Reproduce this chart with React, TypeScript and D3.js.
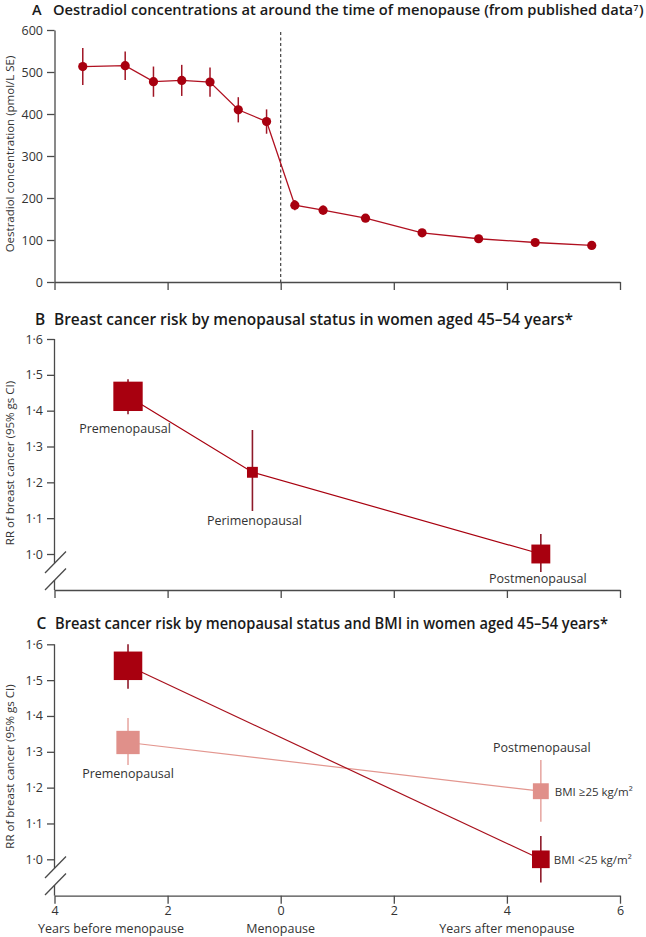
import React, { useEffect, useRef } from "react";
import * as d3 from "d3";

// ---------- Panel A data ----------
const yearsA = [-3.5, -2.75, -2.25, -1.75, -1.25, -0.75, -0.25, 0.25, 0.75, 1.5, 2.5, 3.5, 4.5, 5.5];
const oestradiol = [513, 515, 477, 480, 476, 410, 382, 183, 171, 152, 117, 103, 94, 87];
const oestradiolSE = [44, 34, 36, 37, 35, 30, 29, 12, 11, 6, 5, 4, 4, 4];
const ticksA = [0, 100, 200, 300, 400, 500, 600];

// ---------- Panel B data ----------
const statusB = ["Premenopausal", "Perimenopausal", "Postmenopausal"];
const yearsB = [-2.7, -0.5, 4.6];
const rrB = [1.44, 1.228, 1.0];
const loB = [1.39, 1.12, 0.95];
const hiB = [1.488, 1.346, 1.056];

// ---------- Panel C data ----------
const statusC = ["Premenopausal", "Postmenopausal"];
const yearsC = [-2.7, 4.6];
const rrLean = [1.54, 1.0];
const loLean = [1.476, 0.935];
const hiLean = [1.6, 1.065];
const rrOver = [1.326, 1.19];
const loOver = [1.263, 1.105];
const hiOver = [1.394, 1.277];
const bmiLabels = ["BMI <25 kg/m²", "BMI ≥25 kg/m²"];

const ticksRR = [1.0, 1.1, 1.2, 1.3, 1.4, 1.5, 1.6];
const ticksX = [-4, -2, 0, 2, 4, 6];

const DARK = "#a8000f";
const DARK_BAR = "#8e1a2a";
const PINK = "#e0908a";
const PINK_BAR = "#e8aaa5";
const AXIS = "#4a4a4a";
const TEXT = "#333";
const FONT = "'Open Sans', 'Noto Sans', sans-serif";

export default function App() {
  const ref = useRef<SVGSVGElement | null>(null);

  useEffect(() => {
    const svg = d3.select(ref.current);
    svg.selectAll("*").remove();

    const x = d3.scaleLinear().domain([-4, 6]).range([54.5, 620]);

    const fmtRR = (d: number) => d3.format(".1f")(d).replace(".", "·");

    function title(letter: string, text: string, y: number, xl: number, xt: number, xe: number, size: number) {
      svg.append("text").attr("x", xl).attr("y", y).attr("font-family", FONT).attr("font-weight", 600)
        .attr("font-size", size).attr("fill", "#1a1a1a").text(letter);
      svg.append("text").attr("x", xt).attr("y", y).attr("font-family", FONT).attr("font-weight", 600)
        .attr("font-size", size).attr("fill", "#1a1a1a").attr("textLength", xe - xt)
        .attr("lengthAdjust", "spacingAndGlyphs").text(text);
    }

    function yLabel(text: string, cy: number) {
      svg.append("text").attr("transform", `translate(14,${cy}) rotate(-90)`).attr("text-anchor", "middle")
        .attr("font-family", FONT).attr("font-size", 11.5).attr("fill", TEXT).text(text);
    }

    function xAxis(yPos: number, labels: boolean) {
      const ax = d3.axisBottom(x).tickValues(ticksX).tickSizeInner(8).tickSizeOuter(0).tickPadding(2)
        .tickFormat((d) => (labels ? String(Math.abs(d as number)) : ""));
      const g = svg.append("g").attr("transform", `translate(0,${yPos})`).call(ax);
      g.select(".domain").attr("stroke", AXIS).attr("stroke-width", 1.3);
      g.selectAll(".tick line").attr("stroke", AXIS).attr("stroke-width", 1.3);
      g.selectAll(".tick text").attr("font-family", FONT).attr("font-size", 12.5).attr("fill", TEXT);
    }

    function yAxis(y: d3.ScaleLinear<number, number>, ticks: number[], fmt: (d: number) => string, withDomain: boolean) {
      const ax = d3.axisLeft(y).tickValues(ticks).tickSizeInner(7.5).tickSizeOuter(0).tickPadding(4)
        .tickFormat((d) => fmt(d as number));
      const g = svg.append("g").attr("transform", `translate(54.5,0)`).call(ax);
      g.select(".domain").attr("stroke", withDomain ? AXIS : "none").attr("stroke-width", 1.3);
      g.selectAll(".tick line").attr("stroke", AXIS).attr("stroke-width", 1.3);
      g.selectAll(".tick text").attr("font-family", FONT).attr("font-size", 12.5).attr("fill", TEXT);
    }

    function brokenAxis(top: number, axisY: number, b1: number, b2: number) {
      svg.append("line").attr("x1", 54.5).attr("x2", 54.5).attr("y1", top).attr("y2", b1)
        .attr("stroke", AXIS).attr("stroke-width", 1.3);
      svg.append("line").attr("x1", 54.5).attr("x2", 54.5).attr("y1", b2).attr("y2", axisY)
        .attr("stroke", AXIS).attr("stroke-width", 1.3);
      [b1, b2].forEach((c) => {
        svg.append("line").attr("x1", 45).attr("y1", c + 10).attr("x2", 66).attr("y2", c - 11.5)
          .attr("stroke", AXIS).attr("stroke-width", 1.3);
      });
    }

    // ===================== Panel A =====================
    title("A", "Oestradiol concentrations at around the time of menopause (from published data", 15, 32, 53, 633, 14.5);
    svg.append("text").attr("x", 633.5).attr("y", 10.5).attr("font-family", FONT).attr("font-weight", 600)
      .attr("font-size", 8.5).attr("fill", "#1a1a1a").text("7");
    svg.append("text").attr("x", 639).attr("y", 15).attr("font-family", FONT).attr("font-weight", 600)
      .attr("font-size", 14.5).attr("fill", "#1a1a1a").text(")");
    const yA = d3.scaleLinear().domain([0, 600]).range([282, 30]);
    yAxis(yA, ticksA, (d) => String(d), true);
    xAxis(282, false);
    yLabel("Oestradiol concentration (pmol/L SE)", 154);

    svg.append("line").attr("x1", x(0)).attr("x2", x(0)).attr("y1", 32).attr("y2", 282)
      .attr("stroke", "#333").attr("stroke-width", 1.1).attr("stroke-dasharray", "3,2.5");

    const lineA = d3.line<number>().x((_, i) => x(yearsA[i])).y((d) => yA(d));
    svg.append("path").attr("d", lineA(oestradiol)).attr("fill", "none").attr("stroke", "#b01020").attr("stroke-width", 1.3);
    oestradiol.forEach((v, i) => {
      svg.append("line").attr("x1", x(yearsA[i])).attr("x2", x(yearsA[i]))
        .attr("y1", yA(v + oestradiolSE[i])).attr("y2", yA(v - oestradiolSE[i]))
        .attr("stroke", "#a01525").attr("stroke-width", 1.5);
    });
    oestradiol.forEach((v, i) => {
      svg.append("circle").attr("cx", x(yearsA[i])).attr("cy", yA(v)).attr("r", 4.6).attr("fill", DARK);
    });

    // ===================== Panel B =====================
    title("B", "Breast cancer risk by menopausal status in women aged 45–54 years*", 325, 35, 54, 573, 15.5);
    const yB = d3.scaleLinear().domain([1.0, 1.6]).range([554, 339]);
    yAxis(yB, ticksRR, fmtRR, false);
    brokenAxis(yB(1.6), 590, 563, 580);
    xAxis(590, false);
    yLabel("RR of breast cancer (95% gs CI)", 463);

    const sideB = (lo: number, hi: number) => 2.0 / (Math.log(hi) - Math.log(lo));
    const lineB = d3.line<number>().x((_, i) => x(yearsB[i])).y((d) => yB(d));
    svg.append("path").attr("d", lineB(rrB)).attr("fill", "none").attr("stroke", DARK).attr("stroke-width", 1.2);
    rrB.forEach((v, i) => {
      const cx = x(yearsB[i]);
      svg.append("line").attr("x1", cx).attr("x2", cx).attr("y1", yB(hiB[i])).attr("y2", yB(loB[i]))
        .attr("stroke", DARK_BAR).attr("stroke-width", 1.6);
      const s = sideB(loB[i], hiB[i]);
      svg.append("rect").attr("x", cx - s / 2).attr("y", yB(v) - s / 2).attr("width", s).attr("height", s).attr("fill", DARK);
    });
    const labB = [
      { dx: -3, y: 433 },
      { dx: 2, y: 525 },
      { dx: -3, y: 583 },
    ];
    statusB.forEach((s, i) => {
      svg.append("text").attr("x", x(yearsB[i]) + labB[i].dx).attr("y", labB[i].y).attr("text-anchor", "middle")
        .attr("font-family", FONT).attr("font-size", 12.5).attr("fill", TEXT).text(s);
    });

    // ===================== Panel C =====================
    title("C", "Breast cancer risk by menopausal status and BMI in women aged 45–54 years*", 628.5, 36.5, 55, 608, 15.5);
    const yC = d3.scaleLinear().domain([1.0, 1.6]).range([859.3, 644.3]);
    yAxis(yC, ticksRR, fmtRR, false);
    brokenAxis(yC(1.6), 895.7, 868, 885);
    xAxis(895.7, true);
    yLabel("RR of breast cancer (95% gs CI)", 766.5);

    const xLabels = [
      { t: "Years before menopause", v: -3 },
      { t: "Menopause", v: 0 },
      { t: "Years after menopause", v: 4 },
    ];
    xLabels.forEach((l) => {
      svg.append("text").attr("x", x(l.v)).attr("y", 932.5).attr("text-anchor", "middle")
        .attr("font-family", FONT).attr("font-size", 12.5).attr("fill", TEXT).text(l.t);
    });

    const sideC = (lo: number, hi: number) => 2.3 / (Math.log(hi) - Math.log(lo));
    const series = [
      { rr: rrOver, lo: loOver, hi: hiOver, fill: PINK, bar: PINK_BAR, line: "#e3968f" },
      { rr: rrLean, lo: loLean, hi: hiLean, fill: DARK, bar: DARK_BAR, line: "#a8101c" },
    ];
    series.forEach((sr) => {
      const ln = d3.line<number>().x((_, i) => x(yearsC[i])).y((d) => yC(d));
      svg.append("path").attr("d", ln(sr.rr)).attr("fill", "none").attr("stroke", sr.line).attr("stroke-width", 1.2);
    });
    series.forEach((sr) => {
      sr.rr.forEach((v, i) => {
        const cx = x(yearsC[i]);
        svg.append("line").attr("x1", cx).attr("x2", cx).attr("y1", yC(sr.hi[i])).attr("y2", yC(sr.lo[i]))
          .attr("stroke", sr.bar).attr("stroke-width", 1.6);
        const s = sideC(sr.lo[i], sr.hi[i]);
        svg.append("rect").attr("x", cx - s / 2).attr("y", yC(v) - s / 2).attr("width", s).attr("height", s).attr("fill", sr.fill);
      });
    });
    svg.append("text").attr("x", x(yearsC[0])).attr("y", 778).attr("text-anchor", "middle")
      .attr("font-family", FONT).attr("font-size", 12.5).attr("fill", TEXT).text(statusC[0]);
    svg.append("text").attr("x", x(yearsC[1]) + 1).attr("y", 751.7).attr("text-anchor", "middle")
      .attr("font-family", FONT).attr("font-size", 12.5).attr("fill", TEXT).text(statusC[1]);
    svg.append("text").attr("x", x(yearsC[1]) + 13).attr("y", yC(rrLean[1]) + 5).attr("font-family", FONT)
      .attr("font-size", 11.5).attr("fill", TEXT).text(bmiLabels[0]);
    svg.append("text").attr("x", x(yearsC[1]) + 14).attr("y", yC(rrOver[1]) + 5).attr("font-family", FONT)
      .attr("font-size", 11.5).attr("fill", TEXT).text(bmiLabels[1]);
  }, []);

  return (
    <svg
      ref={ref}
      width={646}
      height={937}
      style={{ position: "absolute", left: 0, top: 0, background: "#fff" }}
    />
  );
}
